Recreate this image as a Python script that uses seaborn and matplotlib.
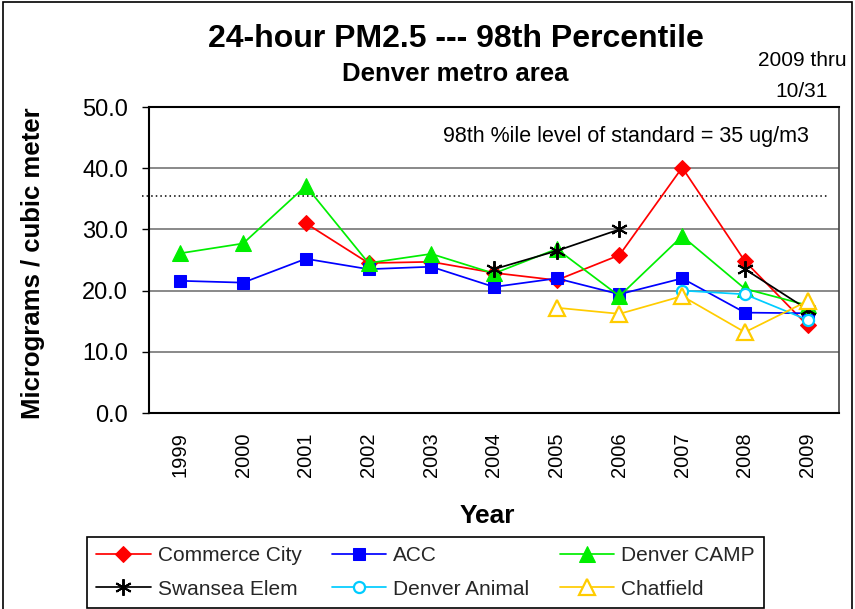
"""
24-hour PM2.5 98th percentile, Denver metro area
"""

import numpy as np
import pandas as pd
import matplotlib
matplotlib.use("Agg")
import matplotlib.pyplot as plt
import seaborn as sns
from matplotlib.patches import Rectangle
from matplotlib.ticker import FixedLocator, FormatStrFormatter

sns.set_theme(style="white")
plt.rcParams["font.family"] = ["Liberation Sans", "DejaVu Sans"]

nan = np.nan
years = [1999, 2000, 2001, 2002, 2003, 2004, 2005, 2006, 2007, 2008, 2009]

commerce_city = [nan, nan, 31.0, 24.5, 24.7, 22.9, 21.7, 25.8, 40.1, 24.8, 14.3]
acc = [21.6, 21.3, 25.2, 23.5, 23.9, 20.6, 22.0, 19.4, 22.0, 16.4, 16.3]
denver_camp = [26.1, 27.7, 37.1, 24.5, 26.0, 22.8, 26.8, 19.1, 28.9, 20.3, 17.6]
swansea_elem = [nan, nan, nan, nan, nan, 23.5, 26.5, 30.0, nan, 23.5, 16.9]
denver_animal = [nan, nan, nan, nan, nan, nan, nan, nan, 20.0, 19.4, 15.2]
chatfield = [nan, nan, nan, nan, nan, nan, 17.2, 16.2, 19.1, 13.2, 18.3]

standard_level = 35.4

series = [
    ("Commerce City", commerce_city, dict(color="#FF0000", marker="D", markersize=8,
                                          markerfacecolor="#FF0000", markeredgecolor="#FF0000")),
    ("ACC", acc, dict(color="#0000FF", marker="s", markersize=9,
                      markerfacecolor="#0000FF", markeredgecolor="#0000FF")),
    ("Denver CAMP", denver_camp, dict(color="#00EE00", marker="^", markersize=11,
                                      markerfacecolor="#00EE00", markeredgecolor="#00EE00")),
    ("Swansea Elem", swansea_elem, dict(color="black", marker=(6, 2, 0), markersize=12,
                                        markeredgewidth=1.4, markeredgecolor="black")),
    ("Denver Animal", denver_animal, dict(color="#00CCFF", marker="o", markersize=8,
                                          markerfacecolor="white", markeredgecolor="#00CCFF",
                                          markeredgewidth=1.6)),
    ("Chatfield", chatfield, dict(color="#FFCC00", marker="^", markersize=11,
                                  markerfacecolor="white", markeredgecolor="#FFCC00",
                                  markeredgewidth=1.6)),
]

fig = plt.figure(figsize=(8.55, 6.09), dpi=100)
ax = fig.add_axes([149 / 855, 1 - 413 / 609, 690 / 855, 306 / 609])

# horizontal grid and the standard level line
for yv in [10, 20, 30, 40]:
    ax.axhline(yv, color="#808080", linewidth=1.3, zorder=0)
ax.axhline(standard_level, xmin=-0.01, xmax=0.985, color="black", linestyle=(0, (1, 2)),
           linewidth=1.1, zorder=1, clip_on=False)

for name, values, style in series:
    df = pd.DataFrame({"year": years, "value": values})
    # break the line where a year is missing
    df["seg"] = df["value"].isna().cumsum()
    df = df.dropna()
    first = True
    for _, part in df.groupby("seg"):
        sns.lineplot(data=part, x="year", y="value", ax=ax, linewidth=1.25,
                     estimator=None, label=name if first else None,
                     legend=False, zorder=3, **style)
        first = False

leg_handles, leg_labels = ax.get_legend_handles_labels()
# matplotlib fills legend columns first, the reference reads row by row
order = [0, 3, 1, 4, 2, 5]
leg_handles = [leg_handles[i] for i in order]
leg_labels = [leg_labels[i] for i in order]

ax.set_xlim(1998.5, 2009.5)
ax.set_ylim(0, 50)
ax.set_xticks(years)
ax.set_xticklabels([str(y) for y in years], rotation=90, fontsize=14.5)
ax.xaxis.set_minor_locator(FixedLocator(np.arange(1998.5, 2010, 1.0)))
ax.tick_params(axis="x", which="major", length=0, pad=14)
ax.tick_params(axis="x", which="minor", length=5, width=1, color="black", direction="out")
ax.set_yticks([0, 10, 20, 30, 40, 50])
ax.yaxis.set_major_formatter(FormatStrFormatter("%.1f"))
ax.tick_params(axis="y", length=5, width=1, color="black", direction="out",
               labelsize=17, pad=10, left=True)
for lab in ax.get_yticklabels() + ax.get_xticklabels():
    lab.set_color("black")

for side in ["left", "bottom", "top"]:
    ax.spines[side].set_color("black")
    ax.spines[side].set_linewidth(1.5)
ax.spines["right"].set_color("#404040")
ax.spines["right"].set_linewidth(1.2)

ax.set_xlabel("")
ax.set_ylabel("")
ax.text(0.426, 0.902, "98th %ile level of standard = 35 ug/m3", transform=ax.transAxes,
        ha="left", va="center", fontsize=15.5, color="black")

fig.text(0.533, 0.936, "24-hour PM2.5 --- 98th Percentile", ha="center", va="center",
         fontsize=23, fontweight="bold", color="black")
fig.text(0.533, 0.878, "Denver metro area", ha="center", va="center",
         fontsize=18.5, fontweight="bold", color="black")
fig.text(0.938, 0.900, "2009 thru", ha="center", va="center", fontsize=15, color="black")
fig.text(0.938, 0.850, "10/31", ha="center", va="center", fontsize=15, color="black")
fig.text(0.039, 1 - 263 / 609, "Micrograms / cubic meter", rotation=90, ha="center",
         va="center", fontsize=18.5, fontweight="bold", color="black")
fig.text(487 / 855, 1 - 516 / 609, "Year", ha="center", va="center", fontsize=19,
         fontweight="bold", color="black")

leg = fig.legend(leg_handles, leg_labels, ncol=3, loc="upper left",
                 bbox_to_anchor=(87 / 855, 1 - 537 / 609), fontsize=15,
                 frameon=True, fancybox=False, edgecolor="black", framealpha=1,
                 handlelength=2.6, handletextpad=0.35, columnspacing=1.45,
                 labelspacing=0.68, borderpad=0.45, borderaxespad=0)
leg.get_frame().set_linewidth(1.2)

# outer chart border
fig.patches.append(Rectangle((0.003, -0.01), 0.994, 1.006, transform=fig.transFigure,
                             fill=False, edgecolor="black", linewidth=1.2))

fig.savefig("out.png", dpi=100)
plt.close(fig)
